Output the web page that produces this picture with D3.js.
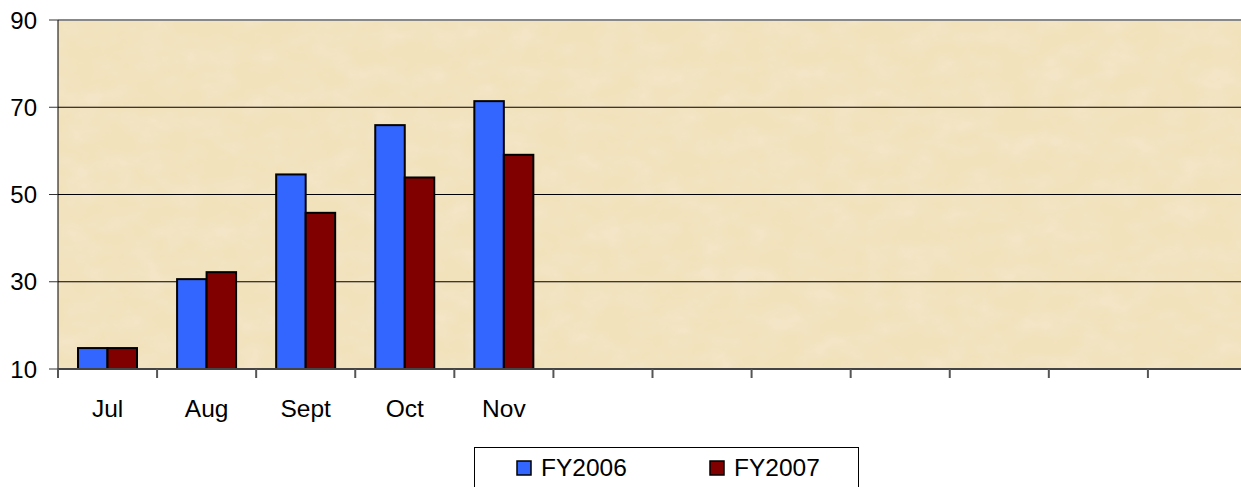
<!DOCTYPE html>
<html>
<head>
<meta charset="utf-8">
<script src="https://cdn.jsdelivr.net/npm/d3@7"></script>
<style>
  body { margin: 0; background: #fff; }
  text { font-family: "Liberation Sans", Arial, sans-serif; }
</style>
</head>
<body>
<div id="chart-area"></div>
<script>
// Data
const months = ["Jul", "Aug", "Sept", "Oct", "Nov", "Dec", "Jan", "Feb", "Mar", "Apr", "May", "Jun"];
const labelledMonths = ["Jul", "Aug", "Sept", "Oct", "Nov"];
const series = ["FY2006", "FY2007"];
const fy2006 = [14.8, 30.6, 54.6, 65.9, 71.4];
const fy2007 = [14.8, 32.2, 45.8, 53.9, 59.1];
const yTicks = [10, 30, 50, 70, 90];
const colors = ["#3366FF", "#800000"];

const W = 1241, H = 487;
const plot = { left: 58, right: 1247, top: 20, bottom: 369 };

const svg = d3.select("#chart-area").append("svg")
    .attr("width", W)
    .attr("height", H);

// Parchment texture
const defs = svg.append("defs");
const filt = defs.append("filter").attr("id", "paper")
    .attr("x", 0).attr("y", 0).attr("width", "100%").attr("height", "100%");
filt.append("feTurbulence")
    .attr("type", "fractalNoise")
    .attr("baseFrequency", "0.03 0.045")
    .attr("numOctaves", 4)
    .attr("seed", 7)
    .attr("result", "noise");
filt.append("feColorMatrix")
    .attr("in", "noise")
    .attr("type", "matrix")
    .attr("values", "0 0 0 0 0.9  0 0 0 0 0.8  0 0 0 0 0.62  0 0 0 -1.2 0.75")
    .attr("result", "tint");
filt.append("feComposite").attr("in", "tint").attr("in2", "SourceGraphic").attr("operator", "over");

// Scales
const x = d3.scaleBand().domain(months).range([plot.left, plot.right]);
const xSub = d3.scaleBand().domain(series).range([20, 20 + 59]);
const y = d3.scaleLinear().domain([10, 90]).range([plot.bottom, plot.top]);

// Background
svg.append("rect")
    .attr("x", plot.left).attr("y", plot.top)
    .attr("width", plot.right - plot.left).attr("height", plot.bottom - plot.top)
    .attr("fill", "#F2E2BC")
    .attr("filter", "url(#paper)");

// Gridlines
svg.append("g").selectAll("line")
    .data(yTicks.slice(1, -1))
    .join("line")
    .attr("x1", plot.left).attr("x2", plot.right)
    .attr("y1", d => y(d)).attr("y2", d => y(d))
    .attr("stroke", "#000").attr("stroke-width", 1);

// Top border
svg.append("line")
    .attr("x1", plot.left).attr("x2", plot.right)
    .attr("y1", plot.top).attr("y2", plot.top)
    .attr("stroke", "#888").attr("stroke-width", 2);

// Bars
const data = labelledMonths.map((m, i) => ({ month: m, values: [fy2006[i], fy2007[i]] }));
const groups = svg.append("g").selectAll("g")
    .data(data)
    .join("g")
    .attr("transform", d => "translate(" + x(d.month) + ",0)");
groups.selectAll("rect")
    .data(d => d.values.map((v, j) => ({ key: series[j], value: v, color: colors[j] })))
    .join("rect")
    .attr("x", d => xSub(d.key))
    .attr("width", xSub.bandwidth())
    .attr("y", d => y(d.value))
    .attr("height", d => y(10) - y(d.value))
    .attr("fill", d => d.color)
    .attr("stroke", "#000")
    .attr("stroke-width", 2);

// Y axis
const yAxis = svg.append("g");
yAxis.append("line")
    .attr("x1", plot.left).attr("x2", plot.left)
    .attr("y1", plot.top).attr("y2", plot.bottom)
    .attr("stroke", "#000").attr("stroke-width", 1);
yAxis.selectAll(".tick")
    .data(yTicks)
    .join("line")
    .attr("x1", plot.left - 9).attr("x2", plot.left)
    .attr("y1", d => y(d)).attr("y2", d => y(d))
    .attr("stroke", "#333");
yAxis.selectAll("text")
    .data(yTicks)
    .join("text")
    .attr("x", 37)
    .attr("y", d => y(d))
    .attr("dy", "0.36em")
    .attr("text-anchor", "end")
    .attr("font-size", 24)
    .text(d => d);

// X axis
const xAxis = svg.append("g");
xAxis.append("line")
    .attr("x1", plot.left).attr("x2", plot.right)
    .attr("y1", plot.bottom).attr("y2", plot.bottom)
    .attr("stroke", "#444").attr("stroke-width", 2);
xAxis.selectAll("line.tick")
    .data(months)
    .join("line")
    .attr("class", "tick")
    .attr("x1", d => x(d)).attr("x2", d => x(d))
    .attr("y1", plot.bottom).attr("y2", plot.bottom + 9)
    .attr("stroke", "#555").attr("stroke-width", 2);
xAxis.selectAll("text")
    .data(labelledMonths)
    .join("text")
    .attr("x", d => x(d) + x.bandwidth() / 2)
    .attr("y", 417)
    .attr("text-anchor", "middle")
    .attr("font-size", 24.5)
    .text(d => d);

// Legend
const legend = svg.append("g");
legend.append("rect")
    .attr("x", 474.5).attr("y", 447.5)
    .attr("width", 384).attr("height", 60)
    .attr("fill", "#fff").attr("stroke", "#000");
const legendX = [517, 710];
series.forEach((s, i) => {
    legend.append("rect")
        .attr("x", legendX[i]).attr("y", 461)
        .attr("width", 14).attr("height", 14)
        .attr("fill", colors[i])
        .attr("stroke", "#000").attr("stroke-width", 1.5);
    legend.append("text")
        .attr("x", legendX[i] + 24).attr("y", 476)
        .attr("font-size", 24.5)
        .text(s);
});
</script>
</body>
</html>
